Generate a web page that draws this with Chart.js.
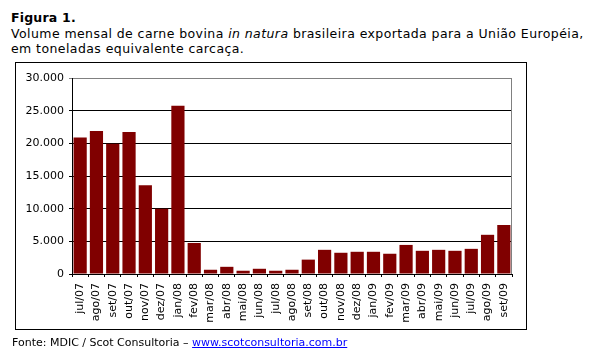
<!DOCTYPE html>
<html>
<head>
<meta charset="utf-8">
<script src="https://cdn.jsdelivr.net/npm/chart.js@4.4.1/dist/chart.umd.min.js"></script>
<style>
  html, body { margin: 0; padding: 0; background: #fff; }
  body { width: 597px; height: 357px; position: relative; overflow: hidden; font-family: "DejaVu Sans", Verdana, sans-serif; color: #000; }
  #title { position: absolute; left: 11px; top: 10px; font-size: 12.5px; letter-spacing: 0.42px; line-height: 15.7px; white-space: nowrap; }
  #title b { font-weight: bold; letter-spacing: 0.2px; }
  #box { position: absolute; left: 15px; top: 62px; width: 512px; height: 268px; border: 1px solid #000; box-sizing: border-box; }
  #c { position: absolute; left: 0; top: 0; }
  #foot { position: absolute; left: 12px; top: 336px; font-size: 11px; line-height: 14px; white-space: nowrap; color: #000; }
  #foot a { color: #0000ff; text-decoration: underline; }
</style>
</head>
<body>
<div id="title"><b>Figura 1.</b><br>Volume mensal de carne bovina <i>in natura</i> brasileira exportada para a União Européia,<br>em toneladas equivalente carcaça.</div>
<div id="box"></div>
<canvas id="c" width="597" height="357"></canvas>
<div id="foot">Fonte: MDIC / Scot Consultoria – <a href="http://www.scotconsultoria.com.br">www.scotconsultoria.com.br</a></div>
<script>
const categories = ['jul/07','ago/07','set/07','out/07','nov/07','dez/07','jan/08','fev/08','mar/08','abr/08','mai/08','jun/08','jul/08','ago/08','set/08','out/08','nov/08','dez/08','jan/09','fev/09','mar/09','abr/09','mai/09','jun/09','jul/09','ago/09','set/09'];
const volumes = [20900, 21900, 19950, 21750, 13600, 10000, 25750, 4750, 650, 1100, 500, 800, 500, 650, 2200, 3700, 3250, 3400, 3400, 3100, 4450, 3550, 3700, 3550, 3850, 6000, 7500];
const yMin = 0;
const yMax = 30000;
const yStep = 5000;

function fmt(v) {
  return String(v).replace(/\B(?=(\d{3})+(?!\d))/g, '.');
}

const rightBorder = {
  id: 'rightBorder',
  afterDraw(chart) {
    const a = chart.chartArea;
    const c = chart.ctx;
    c.save();
    c.strokeStyle = '#808080';
    c.lineWidth = 1;
    c.beginPath();
    const x = Math.round(a.right) - 0.5;
    c.moveTo(x, a.top);
    c.lineTo(x, a.bottom);
    c.stroke();
    c.restore();
  }
};

new Chart(document.getElementById('c'), {
  type: 'bar',
  data: {
    labels: categories,
    datasets: [{
      data: volumes,
      backgroundColor: '#800000',
      borderWidth: 0,
      barPercentage: 0.81,
      categoryPercentage: 1
    }]
  },
  options: {
    responsive: false,
    animation: false,
    devicePixelRatio: 1,
    layout: { padding: { left: 10, top: 78, right: 85, bottom: 33 } },
    plugins: { legend: { display: false }, tooltip: { enabled: false }, title: { display: false } },
    scales: {
      x: {
        offset: true,
        afterFit(s) { s.height = 50; },
        grid: { offset: true, drawOnChartArea: false, drawTicks: true, tickLength: 3, color: '#000', lineWidth: 1 },
        border: { display: true, color: '#000', width: 1 },
        ticks: { minRotation: 90, maxRotation: 90, autoSkip: false, padding: 6, color: '#000', font: { family: 'DejaVu Sans', size: 11 } }
      },
      y: {
        min: yMin,
        max: yMax,
        afterFit(s) { s.width = 62; },
        grid: {
          color: (ctx) => (ctx.tick && ctx.tick.value === yMax) ? '#808080' : '#000',
          lineWidth: 1,
          drawTicks: true,
          tickLength: 3
        },
        border: { display: true, color: '#000', width: 1 },
        ticks: { stepSize: yStep, padding: 5, color: '#000', font: { family: 'DejaVu Sans', size: 11 }, callback: (v) => fmt(v) }
      }
    }
  },
  plugins: [rightBorder]
});
</script>
</body>
</html>
